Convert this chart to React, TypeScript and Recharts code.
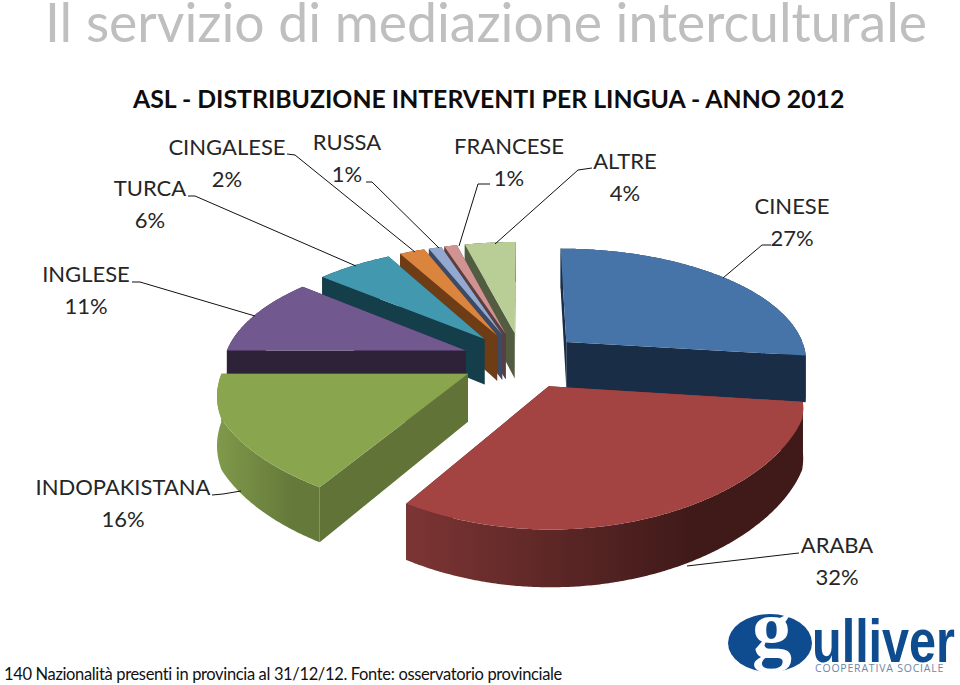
import { PieChart, Pie } from "recharts";

const CATEGORIES = ["CINESE", "ARABA", "INDOPAKISTANA", "INGLESE", "TURCA", "CINGALESE", "RUSSA", "FRANCESE", "ALTRE"];
const SHARES = [27, 32, 16, 11, 6, 2, 1, 1, 4];

const FONT = "Lato, sans-serif";

// top face, cut face, and the two ends of the rim gradient
const SLICE_COLORS: Record<string, string[]> = {
  CINESE: ["#4673a8", "#1a2d47", "#1a2d47", "#1a2d47"],
  ARABA: ["#a44442", "#3f1a19", "#7c3534", "#3f1a19"],
  INDOPAKISTANA: ["#89a54e", "#617337", "#80994a", "#657a3a"],
  INGLESE: ["#71588f", "#2e2239", "#2e2239", "#2e2239"],
  TURCA: ["#4198af", "#153e4b", "#153e4b", "#153e4b"],
  CINGALESE: ["#db843d", "#6e3d15", "#6e3d15", "#6e3d15"],
  RUSSA: ["#93a9cf", "#3d4a66", "#3d4a66", "#3d4a66"],
  FRANCESE: ["#d19392", "#5b3f3f", "#5b3f3f", "#5b3f3f"],
  ALTRE: ["#b9cd96", "#515c40", "#515c40", "#515c40"],
};

// label anchor (centre of first line) and leader polyline
const LABEL_LAYOUT: Record<string, { x: number; y: number; leader: string }> = {
  CINESE: { x: 792, y: 206, leader: "771,245 762,245 723,278" },
  ARABA: { x: 837, y: 545, leader: "799,553 790,554 687,566" },
  INDOPAKISTANA: { x: 123, y: 487, leader: "212,495 223,494 241,491" },
  INGLESE: { x: 86, y: 274, leader: "132,282 140,282 255,316" },
  TURCA: { x: 150, y: 188, leader: "188,196 195,196 356,266" },
  CINGALESE: { x: 227, y: 147, leader: "287,154 295,155 415,252" },
  RUSSA: { x: 347, y: 142, leader: "366,182 372,182 439,248" },
  FRANCESE: { x: 509, y: 146, leader: "490,184 478,184 459,246" },
  ALTRE: { x: 625, y: 161, leader: "592,168 578,170 495,244" },
};

const EXPLODE = 0.25;
const PERSPECTIVE = 0.152;
const HORIZON = -380;
const THICKNESS = 47;

const rad = (d: number) => (d * Math.PI) / 180;

function Slice3D(props: any) {
  const { cx, cy, outerRadius: R, startAngle, endAngle, name } = props;
  const lo = 90 - endAngle;
  const hi = 90 - startAngle;
  const mid = (lo + hi) / 2;
  const [topFill, cutFill, rimA, rimB] = SLICE_COLORS[name];

  const project = (theta: number, r: number, drop = 0) => {
    const X = EXPLODE * Math.sin(rad(mid)) + r * Math.sin(rad(theta));
    const Z = -(EXPLODE * Math.cos(rad(mid)) + r * Math.cos(rad(theta)));
    const s = 1 / (1 - PERSPECTIVE * Z);
    // the near side of the original spreads less sideways than it drops
    const sx = s <= 1.08 ? s : 1.08 + (s - 1.08) * 0.3;
    return { x: cx + R * X * sx, y: HORIZON + (cy - HORIZON) * s + drop * s };
  };
  const str = (p: { x: number; y: number }) => `${p.x.toFixed(1)},${p.y.toFixed(1)}`;

  const thetas: number[] = [];
  for (let t = lo; t < hi; t += 0.5) thetas.push(t);
  thetas.push(hi);

  const cut = (theta: number) =>
    [project(theta, 0), project(theta, 1), project(theta, 1, THICKNESS), project(theta, 0, THICKNESS)].map(str).join(" ");
  const rim = (list: number[]) =>
    [...list.map((t) => project(t, 1)), ...[...list].reverse().map((t) => project(t, 1, THICKNESS))].map(str).join(" ");

  const backRim = thetas.filter((t) => Math.cos(rad(t)) >= 0);
  const frontRim = thetas.filter((t) => Math.cos(rad(t)) < 0);
  // the cut that leans further back gets painted first
  const cuts = Math.cos(rad(lo)) > Math.cos(rad(hi)) ? [lo, hi] : [hi, lo];
  const topPoly = [str(project(lo, 0)), ...thetas.map((t) => str(project(t, 1)))].join(" ");
  const gid = `rim-${name}`;
  const left = Math.min(...thetas.map((t) => project(t, 1).x));
  const right = Math.max(...thetas.map((t) => project(t, 1).x));

  return (
    <g>
      <defs>
        <linearGradient id={gid} gradientUnits="userSpaceOnUse" x1={left} x2={right} y1={0} y2={0}>
          <stop offset="0%" stopColor={rimA} />
          <stop offset="72%" stopColor={rimB} />
          <stop offset="100%" stopColor={rimB} />
        </linearGradient>
      </defs>
      {backRim.length > 1 && <polygon points={rim(backRim)} fill={cutFill} />}
      {cuts.map((t) => (
        <polygon key={t} points={cut(t)} fill={cutFill} />
      ))}
      {frontRim.length > 1 && <polygon points={rim(frontRim)} fill={`url(#${gid})`} />}
      <polygon points={topPoly} fill={topFill} />
    </g>
  );
}

function SliceLabel(props: any) {
  const { name, value } = props;
  const spot = LABEL_LAYOUT[name];
  const textStyle = { fontFamily: FONT, fontSize: 22, fill: "#262626" };
  return (
    <g>
      <polyline points={spot.leader} fill="none" stroke="#111" strokeWidth={1} />
      <text x={spot.x} y={spot.y + 8} textAnchor="middle" style={textStyle}>
        {name}
      </text>
      <text x={spot.x} y={spot.y + 40} textAnchor="middle" style={textStyle}>
        {`${value}%`}
      </text>
    </g>
  );
}

// Pie runs counterclockwise so the far slices get painted first; ARABA sits over CINESE
const tableData = CATEGORIES.map((name, i) => ({ name, value: SHARES[i] })).reverse();

export default function App() {
  return (
    <div style={{ position: "absolute", left: 0, top: 0, width: 960, height: 685, overflow: "hidden", background: "#fff" }}>
      <svg width={960} height={685} style={{ position: "absolute", left: 0, top: 0 }}>
        <text x={45} y={42} style={{ fontFamily: FONT, fontSize: 53.5, fill: "#bfbfbf" }}>
          Il servizio di mediazione interculturale
        </text>
        <text x={133} y={108} style={{ fontFamily: FONT, fontSize: 24.8, fontWeight: 700, fill: "#0d0d0d" }}>
          ASL - DISTRIBUZIONE INTERVENTI PER LINGUA - ANNO 2012
        </text>
        <text x={4} y={680} style={{ fontFamily: FONT, fontSize: 16.5, fill: "#111", letterSpacing: -0.35 }}>
          140 Nazionalità presenti in provincia al 31/12/12. Fonte: osservatorio provinciale
        </text>
        <ellipse cx={770} cy={643} rx={42} ry={29} fill="#0f4c8f" />
        <text x={752} y={656} style={{ fontFamily: "'Liberation Serif', serif", fontSize: 80, fontWeight: 700, fill: "#fff" }}>
          g
        </text>
        <text
          transform="translate(812,662) scale(0.783,1)"
          style={{ fontFamily: "'Liberation Sans', sans-serif", fontSize: 62, fontWeight: 700, fill: "#0f4c8f" }}
        >
          ulliver
        </text>
        <text x={815} y={672} style={{ fontFamily: "'Open Sans', sans-serif", fontSize: 10.5, fill: "#6b86a6", letterSpacing: 0.8 }}>
          COOPERATIVA SOCIALE
        </text>
      </svg>
      <div style={{ position: "absolute", left: 0, top: 0 }}>
        <PieChart width={960} height={685} margin={{ top: 0, right: 0, bottom: 0, left: 0 }}>
          <Pie
            data={tableData}
            dataKey="value"
            nameKey="name"
            cx={522}
            cy={360}
            outerRadius={242}
            startAngle={90}
            endAngle={450}
            stroke="none"
            isAnimationActive={false}
            shape={(p: any) => (p.name === "ARABA" ? <g /> : <Slice3D {...p} />)}
          />
          <Pie
            data={tableData}
            dataKey="value"
            nameKey="name"
            cx={522}
            cy={360}
            outerRadius={242}
            startAngle={90}
            endAngle={450}
            stroke="none"
            isAnimationActive={false}
            label={(p: any) => <SliceLabel {...p} />}
            labelLine={false}
            shape={(p: any) => (p.name === "ARABA" ? <Slice3D {...p} /> : <g />)}
          />
        </PieChart>
      </div>
    </div>
  );
}
